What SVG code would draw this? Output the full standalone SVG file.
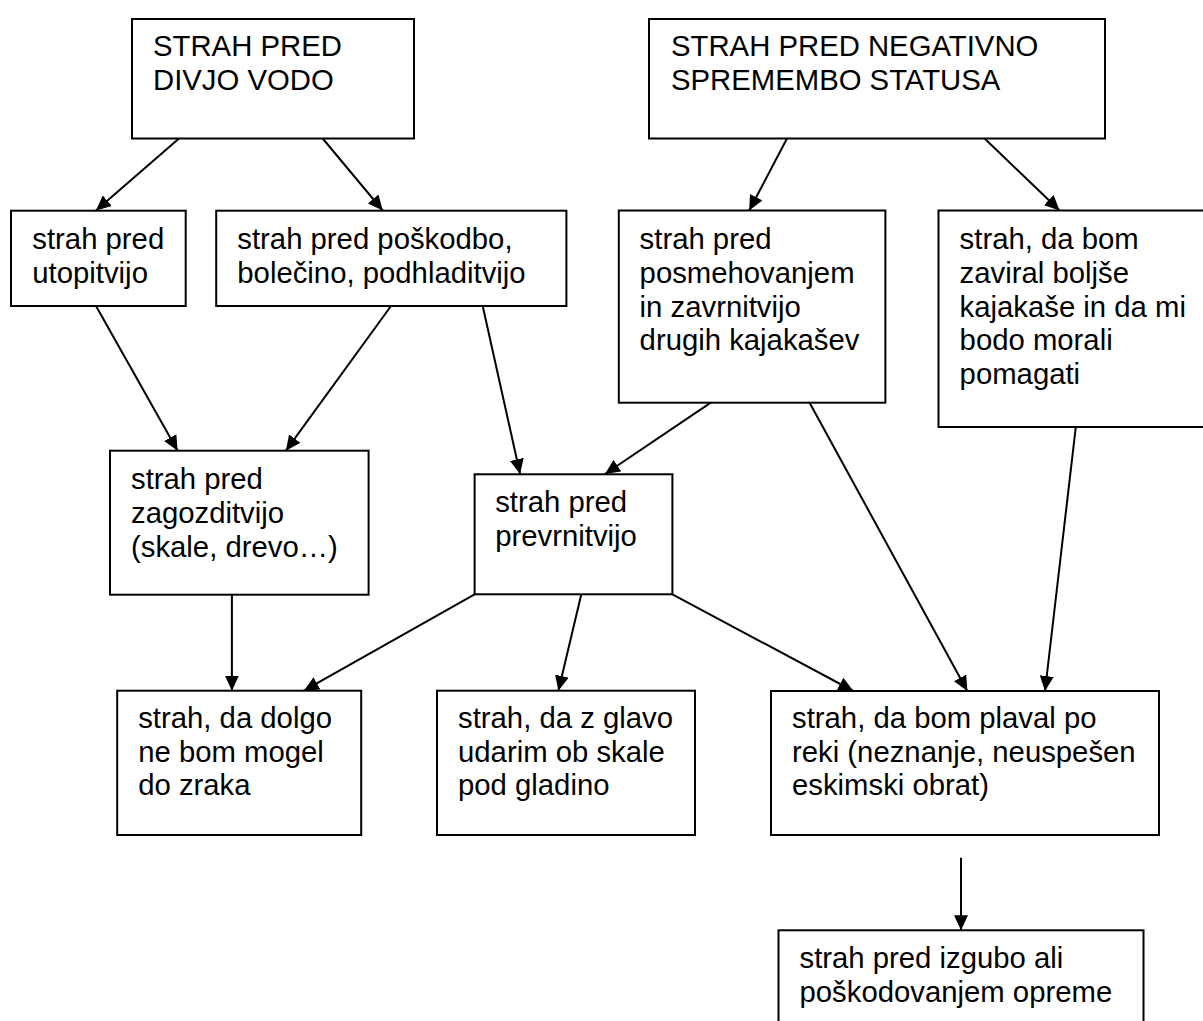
<svg xmlns="http://www.w3.org/2000/svg" width="1203" height="1021" viewBox="0 0 1203 1021">
<style>
.box{fill:#fff;stroke:#000;stroke-width:2}
.t{font-family:"Liberation Sans",Arial,sans-serif;font-size:29.3px;fill:#000}
.c{stroke:#000;stroke-width:2;fill:none;marker-end:url(#ah)}
</style>
<defs>
<marker id="ah" markerUnits="userSpaceOnUse" markerWidth="16" markerHeight="14" refX="15" refY="7" orient="auto">
<path d="M0,0 L15,7 L0,14 z" fill="#000"/>
</marker>
</defs>
<rect width="1203" height="1021" fill="#fff"/>
<g id="connectors">
<line class="c" x1="179" y1="138.5" x2="96" y2="210.5"/>
<line class="c" x1="322.7" y1="138.5" x2="382.7" y2="210.5"/>
<line class="c" x1="96" y1="306" x2="177.6" y2="450.7"/>
<line class="c" x1="391" y1="306" x2="285.9" y2="450.7"/>
<line class="c" x1="482.7" y1="306" x2="520.1" y2="474"/>
<line class="c" x1="787" y1="138.5" x2="749.2" y2="210.5"/>
<line class="c" x1="984.6" y1="138.5" x2="1059.6" y2="210.5"/>
<line class="c" x1="710.8" y1="402.7" x2="605" y2="474"/>
<line class="c" x1="809.6" y1="402.7" x2="967.3" y2="691"/>
<line class="c" x1="1075.8" y1="427" x2="1045" y2="691"/>
<line class="c" x1="231.9" y1="594.7" x2="231.9" y2="690.7"/>
<line class="c" x1="474.6" y1="594.3" x2="303.9" y2="690.7"/>
<line class="c" x1="581.3" y1="594.3" x2="558.4" y2="690.7"/>
<line class="c" x1="672.4" y1="594.3" x2="853.3" y2="691"/>
<line class="c" x1="961" y1="857.7" x2="961" y2="930.3"/>
</g>
<g id="n-divja-voda">
<rect class="box" x="132" y="19" width="282" height="119.5"/>
<text class="t" x="153" y="56">STRAH PRED</text>
<text class="t" x="153" y="90">DIVJO VODO</text>
</g>
<g id="n-status">
<rect class="box" x="649" y="19" width="456" height="119.5"/>
<text class="t" x="671" y="56">STRAH PRED NEGATIVNO</text>
<text class="t" x="671" y="90">SPREMEMBO STATUSA</text>
</g>
<g id="n-utopitev">
<rect class="box" x="11" y="210.7" width="174.7" height="95.3"/>
<text class="t" x="32.3" y="249.3">strah pred</text>
<text class="t" x="32.3" y="283">utopitvijo</text>
</g>
<g id="n-poskodba">
<rect class="box" x="216.2" y="210.7" width="350.2" height="95.3"/>
<text class="t" x="237.3" y="249.3">strah pred poškodbo,</text>
<text class="t" x="237.3" y="283">bolečino, podhladitvijo</text>
</g>
<g id="n-posmeh">
<rect class="box" x="618.8" y="210.5" width="266.6" height="192.2"/>
<text class="t" x="639.6" y="249.3">strah pred</text>
<text class="t" x="639.6" y="283">posmehovanjem</text>
<text class="t" x="639.6" y="316.7">in zavrnitvijo</text>
<text class="t" x="639.6" y="350.4">drugih kajakašev</text>
</g>
<g id="n-zaviral">
<rect class="box" x="938.5" y="210.5" width="275" height="216.5"/>
<text class="t" x="959.6" y="249.3">strah, da bom</text>
<text class="t" x="959.6" y="283">zaviral boljše</text>
<text class="t" x="959.6" y="316.7">kajakaše in da mi</text>
<text class="t" x="959.6" y="350.4">bodo morali</text>
<text class="t" x="959.6" y="384.1">pomagati</text>
</g>
<g id="n-zagozditev">
<rect class="box" x="110" y="450.7" width="258.6" height="144"/>
<text class="t" x="131" y="489.3">strah pred</text>
<text class="t" x="131" y="523">zagozditvijo</text>
<text class="t" x="131" y="556.7">(skale, drevo…)</text>
</g>
<g id="n-prevrnitev">
<rect class="box" x="474.6" y="474.3" width="197.8" height="120"/>
<text class="t" x="495.2" y="512.3">strah pred</text>
<text class="t" x="495.2" y="546">prevrnitvijo</text>
</g>
<g id="n-zrak">
<rect class="box" x="117.2" y="690.7" width="244" height="144.3"/>
<text class="t" x="138.2" y="728">strah, da dolgo</text>
<text class="t" x="138.2" y="761.7">ne bom mogel</text>
<text class="t" x="138.2" y="795.4">do zraka</text>
</g>
<g id="n-glava">
<rect class="box" x="437" y="690.7" width="258" height="144.3"/>
<text class="t" x="458" y="728">strah, da z glavo</text>
<text class="t" x="458" y="761.7">udarim ob skale</text>
<text class="t" x="458" y="795.4">pod gladino</text>
</g>
<g id="n-plaval">
<rect class="box" x="771" y="691" width="388" height="144"/>
<text class="t" x="792" y="728">strah, da bom plaval po</text>
<text class="t" x="792" y="761.7">reki (neznanje, neuspešen</text>
<text class="t" x="792" y="795.4">eskimski obrat)</text>
</g>
<g id="n-oprema">
<rect class="box" x="778.5" y="930.3" width="365" height="100"/>
<text class="t" x="799.5" y="968.3">strah pred izgubo ali</text>
<text class="t" x="799.5" y="1002">poškodovanjem opreme</text>
</g>
</svg>
